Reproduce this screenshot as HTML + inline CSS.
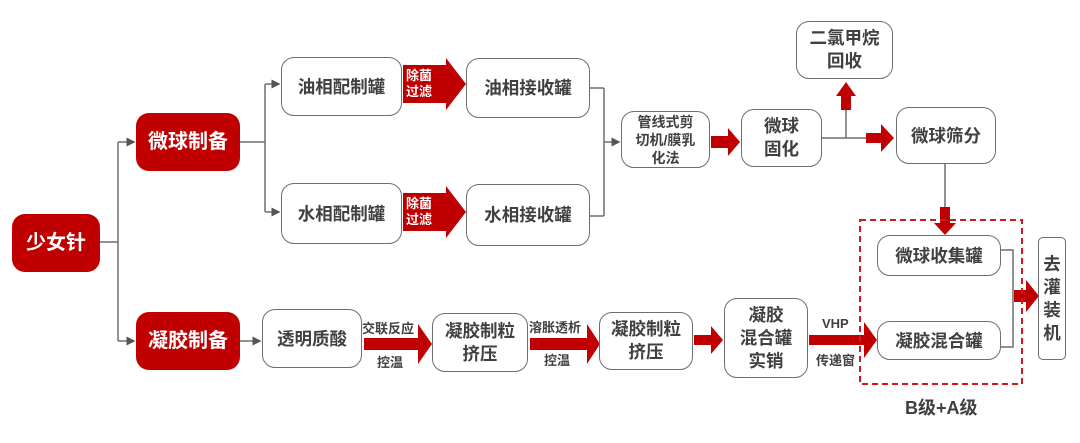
<!DOCTYPE html>
<html><head><meta charset="utf-8"><style>
body{margin:0;width:1080px;height:443px;background:#fff;position:relative;overflow:hidden;font-family:"Liberation Sans","Noto Sans CJK SC",sans-serif;}
.b{position:absolute;box-sizing:border-box;border:1.5px solid #6e6e6e;border-radius:13px;background:#fff;color:#404040;font-weight:bold;font-size:17.5px;display:flex;align-items:center;justify-content:center;text-align:center;line-height:22px;}
.r{background:#c00000;border:none;color:#fff;font-size:20px;}
.t{position:absolute;color:#404040;font-weight:bold;font-size:13px;white-space:nowrap;}
svg{position:absolute;left:0;top:0;}
</style></head><body>
<svg width="1080" height="443">
<defs><marker id="a" markerWidth="6" markerHeight="6" refX="5" refY="3" orient="auto"><path d="M0,0L6,3L0,6z" fill="#555"/></marker></defs>
<g stroke="#6e6e6e" stroke-width="1.5" fill="none">
<path d="M100,242H118M118,142V341"/>
<path d="M118,142H134" marker-end="url(#a)"/><path d="M118,341H134" marker-end="url(#a)"/>
<path d="M240,142H265M265,84V212"/>
<path d="M265,84H279" marker-end="url(#a)"/><path d="M265,212H279" marker-end="url(#a)"/>
<path d="M590,88H604M590,216H604M604,88V216"/>
<path d="M604,142H619" marker-end="url(#a)"/>
<path d="M240,341H260" marker-end="url(#a)"/>
<path d="M822,138H866M846,138V108"/>
<path d="M945,164V208"/>
<path d="M1001,250H1013V347H1001"/>
</g>
<g fill="#c00000">
<path d="M403,65H446V58L466,84L446,110V103H403z"/>
<path d="M403,193H446V186L466,212L446,238V231H403z"/>
<path d="M711,136H728V128L740,142L728,156V148H711z"/>
<path d="M841,110V96H836L846,82L856,96H851V110z"/>
<path d="M866,133H881V124L894,138L881,152V143H866z"/>
<path d="M940,207H950V223H956L945,235L934,223H940z"/>
<path d="M1014,290H1026V280L1039,296L1026,312V302H1014z"/>
<path d="M364,338H418V324L432,344L418,364V350H364z"/>
<path d="M530,338H587V324L600,344L587,364V350H530z"/>
<path d="M694,335H711V326L723,340L711,354V345H694z"/>
<path d="M809,335H864V322L877,340L864,358V345H809z"/>
</g>
<rect x="860" y="220" width="162" height="164" fill="none" stroke="#d0191f" stroke-width="2" stroke-dasharray="6,4"/>
</svg>
<div class="b r" style="left:12px;top:214px;width:88px;height:58px;">少女针</div>
<div class="b r" style="left:136px;top:113px;width:104px;height:58px;">微球制备</div>
<div class="b r" style="left:136px;top:312px;width:104px;height:58px;">凝胶制备</div>
<div class="b" style="left:281px;top:57px;width:121px;height:59px;">油相配制罐</div>
<div class="b" style="left:281px;top:183px;width:121px;height:61px;">水相配制罐</div>
<div class="b" style="left:466px;top:58px;width:124px;height:60px;">油相接收罐</div>
<div class="b" style="left:466px;top:184px;width:124px;height:62px;">水相接收罐</div>
<div class="t" style="left:406px;top:68px;color:#fff;line-height:16px;">除菌<br>过滤</div>
<div class="t" style="left:406px;top:196px;color:#fff;line-height:16px;">除菌<br>过滤</div>
<div class="b" style="left:621px;top:111px;width:89px;height:57px;font-size:14px;line-height:18px;">管线式剪<br>切机/膜乳<br>化法</div>
<div class="b" style="left:741px;top:109px;width:81px;height:58px;line-height:23px;">微球<br>固化</div>
<div class="b" style="left:796px;top:21px;width:97px;height:58px;line-height:23px;">二氯甲烷<br>回收</div>
<div class="b" style="left:896px;top:107px;width:100px;height:57px;">微球筛分</div>
<div class="b" style="left:877px;top:235px;width:124px;height:41px;">微球收集罐</div>
<div class="b" style="left:877px;top:321px;width:124px;height:39px;">凝胶混合罐</div>
<div class="b" style="left:1038px;top:237px;width:28px;height:123px;border-radius:5px;line-height:23px;">去<br>灌<br>装<br>机</div>
<div class="t" style="left:905px;top:394px;font-size:18px;">B级+A级</div>
<div class="b" style="left:262px;top:309px;width:100px;height:59px;">透明质酸</div>
<div class="b" style="left:432px;top:313px;width:96px;height:59px;line-height:23px;">凝胶制粒<br>挤压</div>
<div class="b" style="left:599px;top:312px;width:94px;height:58px;line-height:23px;">凝胶制粒<br>挤压</div>
<div class="b" style="left:724px;top:298px;width:84px;height:80px;line-height:23px;">凝胶<br>混合罐<br>实销</div>
<div class="t" style="left:362px;top:318px;">交联反应</div>
<div class="t" style="left:377px;top:352px;">控温</div>
<div class="t" style="left:529px;top:317px;">溶胀透析</div>
<div class="t" style="left:544px;top:350px;">控温</div>
<div class="t" style="left:822px;top:316px;">VHP</div>
<div class="t" style="left:816px;top:350px;">传递窗</div>
</body></html>
